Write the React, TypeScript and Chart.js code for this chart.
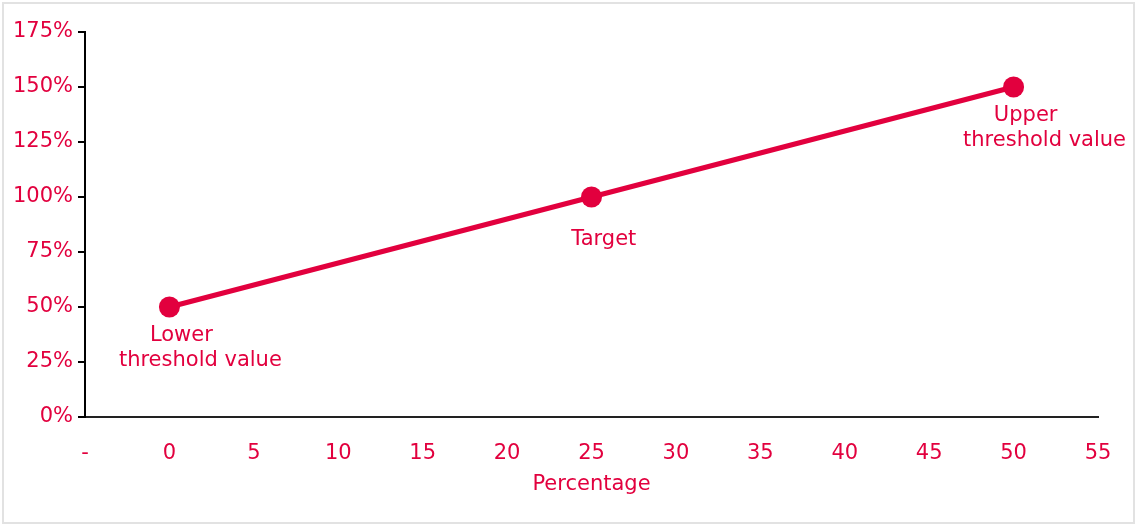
import React, { useEffect, useRef } from "react";
import { Chart, registerables } from "chart.js";

Chart.register(...registerables);

const xValues = [0, 25, 50];
const yValues = [50, 100, 150];
const pointLabels: string[][] = [["Lower", "threshold value"], ["Target"], ["Upper", "threshold value"]];
const xTitle = "Percentage";
const xMin = -5;
const xMax = 55;
const xStep = 5;
const yMin = 0;
const yMax = 175;
const yStep = 25;

const RED = "#E2003E";
const FONT = "'DejaVu Sans', Verdana, sans-serif";
const FS = 21;

const labelPlugin = {
  id: "pointLabels",
  afterDatasetsDraw(chart: any) {
    const meta = chart.getDatasetMeta(0);
    const ctx = chart.ctx;
    ctx.save();
    ctx.fillStyle = RED;
    ctx.font = `${FS}px ${FONT}`;
    ctx.textAlign = "left";
    ctx.textBaseline = "middle";
    meta.data.forEach((pt: any, i: number) => {
      const lines = pointLabels[i] || [];
      const lh = 25;
      const center = pt.y + (lines.length > 1 ? 41 : 43);
      const start = center - ((lines.length - 1) * lh) / 2;
      lines.forEach((l, j) => {
        const w = ctx.measureText(l).width;
        ctx.fillText(l, pt.x - w * 0.31, start + j * lh);
      });
    });
    ctx.restore();
  },
};

export default function App() {
  const ref = useRef<HTMLCanvasElement>(null);
  useEffect(() => {
    if (!ref.current) return;
    const chart = new Chart(ref.current, {
      type: "line",
      data: {
        datasets: [
          {
            data: xValues.map((x, i) => ({ x, y: yValues[i] })),
            borderColor: RED,
            backgroundColor: RED,
            borderWidth: 5,
            pointRadius: 10.5,
            pointBorderWidth: 0,
            pointBackgroundColor: RED,
            tension: 0,
          },
        ],
      },
      options: {
        animation: false,
        responsive: true,
        maintainAspectRatio: false,
        layout: { padding: { left: 0, right: 38, top: 32, bottom: 0 } },
        plugins: { legend: { display: false }, tooltip: { enabled: false } },
        scales: {
          x: {
            type: "linear",
            min: xMin,
            max: xMax,
            grid: { display: false, drawTicks: false },
            border: { display: true, color: "#222", width: 2 },
            ticks: {
              stepSize: xStep,
              color: RED,
              padding: 24,
              maxRotation: 0,
              font: { family: FONT, size: FS },
              callback: (v: any) => (v === xMin ? "-" : String(v)),
            },
            title: {
              display: true,
              text: xTitle,
              color: RED,
              padding: { top: 0, bottom: 28 },
              font: { family: FONT, size: FS },
            },
            afterFit: (s: any) => {
              s.height = 108;
            },
          },
          y: {
            type: "linear",
            min: yMin,
            max: yMax,
            grid: { display: true, drawOnChartArea: false, drawTicks: true, tickLength: 7, color: "#000", lineWidth: 2 },
            border: { display: true, color: "#000", width: 2 },
            ticks: {
              stepSize: yStep,
              color: RED,
              padding: 5,
              font: { family: FONT, size: FS },
              callback: (v: any) => `${v}%`,
            },
            afterFit: (s: any) => {
              s.width = 85;
            },
          },
        },
      },
      plugins: [labelPlugin],
    });
    return () => chart.destroy();
  }, []);

  return (
    <div style={{ position: "fixed", left: 0, top: 0, width: 1136, height: 525, background: "#fff" }}>
      <div
        style={{
          position: "absolute",
          left: 2,
          top: 2,
          width: 1133,
          height: 522,
          border: "2px solid #e2e2e2",
          boxSizing: "border-box",
        }}
      />
      <div style={{ position: "absolute", left: 0, top: 0, width: 1136, height: 525 }}>
        <canvas ref={ref} />
      </div>
    </div>
  );
}
